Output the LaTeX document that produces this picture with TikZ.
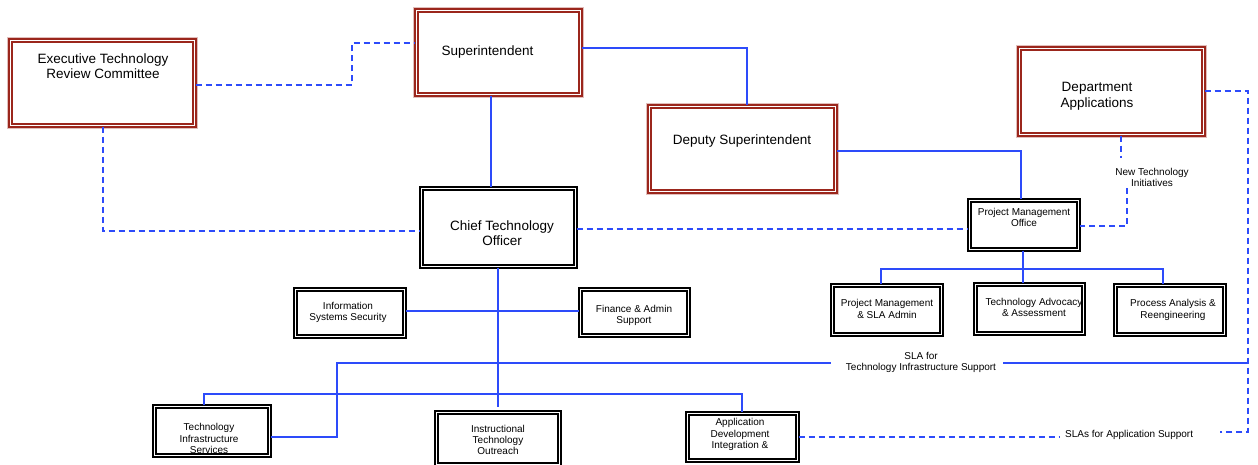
\documentclass[tikz,border=0pt]{standalone}
\usepackage{fontspec}
\setmainfont{Liberation Sans}
\definecolor{bred}{RGB}{155,38,28}
\definecolor{lblue}{RGB}{45,75,250}
\tikzset{
  boxbase/.style={double=white, line width=1.7pt, double distance=1.3pt, inner sep=0pt, fill=white},
  redbox/.style={boxbase, draw=bred, preaction={draw=bred!30, line width=6.7pt}},
  blkbox/.style={boxbase, draw=black},
  big/.style={font=\fontsize{13.5}{15.5}\selectfont, align=center, inner sep=0pt},
  small/.style={font=\fontsize{10}{11.3}\selectfont, align=center, inner sep=0pt},
  conn/.style={draw=lblue, line width=1.2pt},
  dconn/.style={conn, dash pattern=on 6pt off 4pt}
}
\begin{document}
\begin{tikzpicture}[x=1pt,y=-1pt]
\useasboundingbox (0,0) rectangle (1258,464);
% ---------- boxes ----------
\node[redbox, minimum width=184.5pt, minimum height=85.5pt] (etrc) at (102.5,83) {};
\node[redbox, minimum width=164.5pt, minimum height=84.5pt] (sup) at (498.5,52.5) {};
\node[redbox, minimum width=186.5pt, minimum height=85.5pt] (dep) at (742.5,149) {};
\node[redbox, minimum width=184.5pt, minimum height=86.5pt] (dept) at (1111.5,91.5) {};
\node[blkbox, minimum width=154.5pt, minimum height=78.5pt] (cto) at (498.5,227.5) {};
\node[blkbox, minimum width=109.5pt, minimum height=47.5pt] (iss) at (350,313) {};
\node[blkbox, minimum width=108.5pt, minimum height=46.5pt] (fin) at (634.5,312.5) {};
\node[blkbox, minimum width=109.5pt, minimum height=49.5pt] (pmo) at (1024,225) {};
\node[blkbox, minimum width=109.5pt, minimum height=49.5pt] (pma) at (887,310) {};
\node[blkbox, minimum width=108.5pt, minimum height=49.5pt] (tad) at (1029.5,309) {};
\node[blkbox, minimum width=109.5pt, minimum height=49.5pt] (pae) at (1170,310) {};
\node[blkbox, minimum width=115.5pt, minimum height=49.5pt] (tis) at (212,431) {};
\node[blkbox, minimum width=123.5pt, minimum height=52.5pt] (ito) at (498,438.5) {};
\node[blkbox, minimum width=110.5pt, minimum height=47.5pt] (adi) at (742.5,437) {};
% ---------- box texts ----------
\node[big] (etrcT) at (103,66) {Executive Technology\\Review Committee};
\node[big] (supT) at (487.5,52.5) {Superintendent};
\node[big] (depT) at (742,141.5) {Deputy Superintendent};
\node[big, font=\fontsize{13.5}{16}\selectfont] (deptT) at (1097,96.5) {Department\\Applications};
\node[big] (ctoT) at (502,233) {Chief Technology\\Officer};
\node[small] (issT) at (348,312.5) {Information\\Systems Security};
\node[small] (finT) at (634,315.5) {Finance \& Admin\\Support};
\node[small] (pmoT) at (1024,217.5) {Project Management\\Office};
\node[small] (pmaT) at (887,309) {Project Management\\\& SLA Admin};
\node[small] (tadT) at (1034,307.5) {Technology Advocacy\\\& Assessment};
\node[small] (paeT) at (1173,310) {Process Analysis \&\\Reengineering};
\node[small] (tisT) at (209,438.5) {Technology\\Infrastructure\\Services};
\node[small] (itoT) at (498,440) {Instructional\\Technology\\Outreach};
\node[small] (adiT) at (740,434.5) {Application\\Development\\Integration \&};
% ---------- connector labels ----------
\node[small] (nti) at (1152,177.5) {New Technology\\Initiatives};
\node[small] (slaT) at (921,362.5) {SLA for\\Technology Infrastructure Support};
\node[small, anchor=west] (slaA) at (1065,435) {SLAs for Application Support};
% ---------- helper coordinates ----------
\coordinate (c1) at (352,85);
\coordinate (c2) at (352,43);
\coordinate (c3) at (1121,158);
\coordinate (c4) at (1127,188);
\coordinate (c5) at (1127,226);
\coordinate (c6) at (1248,91);
\coordinate (c7) at (1248,432);
\coordinate (c8) at (1220,432);
\coordinate (c9) at (1060,437);
\coordinate (pmoJ) at (1023,269);
\coordinate (pL) at (881,269);
\coordinate (pR) at (1163,269);
\coordinate (ctoJ) at (498,407);
\coordinate (s1) at (337,437);
\coordinate (s2) at (337,363);
\coordinate (s3) at (831,363);
\coordinate (s4) at (1003,363);
\coordinate (s5) at (1248,363);
\coordinate (b1) at (204,394);
\coordinate (b2) at (742,394);
% ---------- connectors ----------
\draw[dconn] (etrc.east |- c1) -- (c1) -- (c2) -- (sup.west |- c2);
\draw[conn] (sup.east |- 0,48) -| (dep.north -| 747,0);
\draw[conn] (sup.south -| 491,0) -- (cto.north -| 491,0);
\draw[dconn] (etrc.south -| 103,0) |- (cto.west |- 0,231);
\draw[dconn] (cto.east |- 0,229) -- (pmo.west |- 0,229);
\draw[conn] (dep.east |- 0,151) -| (pmo.north -| 1021,0);
\draw[dconn] (dept.south -| c3) -- (c3);
\draw[dconn] (c4) -- (c5) -- (pmo.east |- c5);
\draw[dconn] (dept.east |- c6) -- (c6) -- (c7) -- (c8);
\draw[dconn] (adi.east |- c9) -- (c9);
\draw[conn] (pmo.south -| pmoJ) -- (tad.north -| pmoJ);
\draw[conn] (pma.north -| pL) -- (pL) -- (pR) -- (pae.north -| pR);
\draw[conn] (cto.south -| ctoJ) -- (ctoJ);
\draw[conn] (iss.east |- 0,311) -- (fin.west |- 0,311);
\draw[conn] (tis.east |- s1) -- (s1) -- (s2) -- (s3);
\draw[conn] (s4) -- (s5);
\draw[conn] (tis.north -| b1) -- (b1) -- (b2) -- (adi.north -| b2);
\end{tikzpicture}
\end{document}
